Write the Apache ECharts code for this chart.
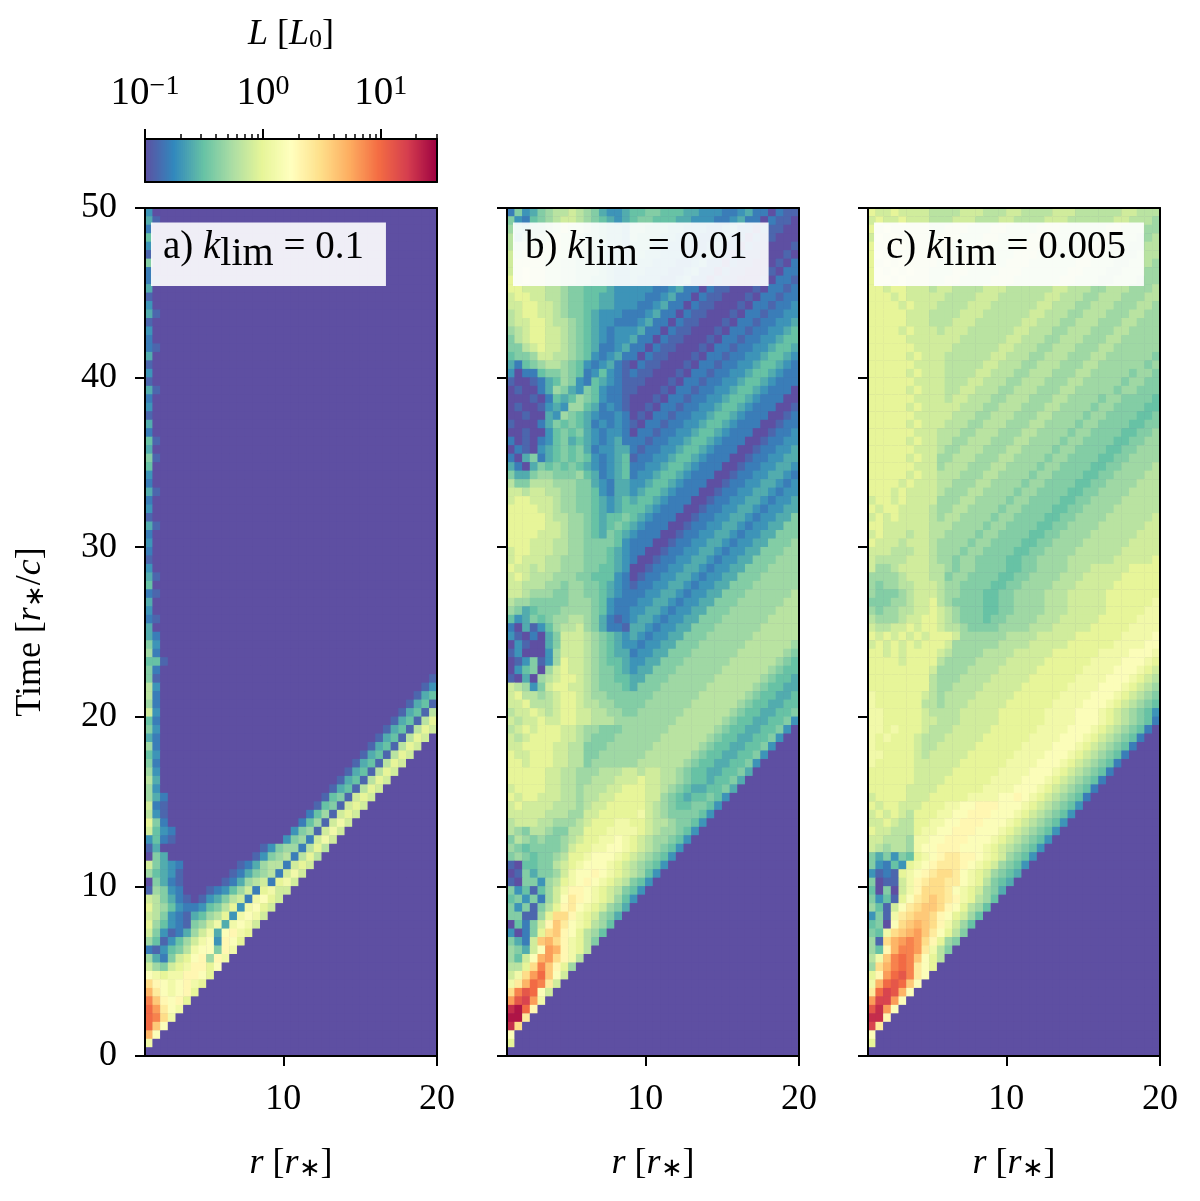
<!DOCTYPE html>
<html><head><meta charset="utf-8">
<script src="https://cdn.jsdelivr.net/npm/echarts@6/dist/echarts.min.js"></script>
<style>html,body{margin:0;padding:0;background:#fff}#c{width:1200px;height:1201px}</style>
</head><body><div id="c"></div>
<script>
// Each character is one cell of log10(L): '.'/a = -1.0, b = -0.9, ... k = 0, ... y = 1.4
// Rows run from the top of a panel (t = 50) to the bottom (t = 0); missing cells are the floor value.
const D = n => '.'.repeat(n);
const panelA = [
"d","eb","c","f","d","b","g","c","cb","e","b","d","eb","b","d","c","cb","e","b","d",
"b","eb","c","d","b","e","c","fb","e","gb","f","d","c","eb","c","d","b","eb","c","d",
"c","b","d","eb","f","cb","e","d","cb","e",
"ec","gd","hc","ffb","gc","gb"+D(35)+"b","id"+D(34)+"bd","ic"+D(33)+"bef","hc"+D(32)+"befb","jd"+D(31)+"befbi","fc"+D(30)+"befbik",
"gd"+D(29)+"befbikj",
"ec"+D(28)+"befbikj",
"hc"+D(27)+"befbikj",
"fd"+D(26)+"befbikj",
"gc"+D(25)+"befbikj",
"hd"+D(24)+"befbikj",
"ie"+D(23)+"befbikj",
"hd"+D(22)+"befbikj",
"hec"+D(20)+"bfgbjkj",
"jcb"+D(19)+"bfgbjkj",
"idb"+D(18)+"cfhbjkj",
"kgc"+D(17)+"cfhbjlj",
"jfdc"+D(15)+"dghbjlj",
"dfcb"+D(14)+"dghcjlj",
"bea"+D(11)+"abdghhciki",
"age"+D(10)+"abdghiciki",
"jgedc"+D(7)+"bcehiicjkj",
"hfedb"+D(6)+"bceghicjlj",
"agecb"+D(5)+"bcehijcklj",
"bhgdc"+D(3)+"bcdfhjckljj",
"jigecb"+D(1)+"bdegijclmkj",
"kihfdccdfgikdlmkj",
"jigdcbefhikdlmlj",
"khfdcbghjlelmlj",
"jgdbcehjlemnlk",
"hfbdfhjlmdnmk",
"cbdfgilmmgnl",
"hecgjkmnhnl",
"jhgjklnnkm",
"mlkllnnmk",
"pnmlmnlk",
"romlmnk",
"tqnmnk",
"usoml",
"utpl",
"uqm",
"rm",
"l"
];
const panelB = [
"cgdeghiijihgeddeffggfffeedddccdeccacbb",
"gdcfghijjihgfedefggfffeedddccdeccacbba",
"hfegghijiihgfeedggfffeedddccdeccacbbaa",
"iegghijiihggfeedgfffeedddccdeccacbbaaa",
"ihhiijjiihhgfeedfffeedddccdeccacbbaaab",
"jijijjiihhggfeedffeedddccdeccacbbaaaba",
"jjjjjiihhgggfeedfeedddccdeccacbbaaabac",
"jjkjjiihhgggfeddeedddccdeccacbbaaabacc",
"kjkjjiihhggffeddedddccdeccacbbaaabaccb",
"kkjjjiihggfffedddddccdeccacbbaaabaccbc",
"jkkjjiihggffeeddddccdeccacbbaaabaccbcc",
"jjkkjjihggffeedddccdeccacbbaaabaccbccd",
"ijkkjjihggfedddcccdeccacbbaaabaccbccdd",
"ijjkkjiihgfeddcccdeccacbbaaabaccbccdde",
"hijkkjjihgfedcdddeccacbbaaabaccbccddef",
"gijkkjjihgfedcddeccacbbaaabaccbccddeff",
"ggijkjjihgfeccdeccacbbaaabaccbccddeffe",
"fgghjjiihgfdcdeccacbbaaabaccbccddeffed",
"ecfghiihgfdcdecbacbbaaabaccbccddeffedc",
"daccfgghgfcdfdcbcbbaaabaccbccddeffedcc",
"baabcefhgdcfedcbbbaaabaccbccddeffedccc",
"abaacehgedgfdccbbaaabaccbccddeffedccca",
"aaabacfefhgfdccbaaabaccbccddeffedcccaa",
"abaabdedhhfecdcbaabaccbccddeffedcccaab",
"aabaaedhgfedccdcabaccbccddeffedcccaabc",
"baaacegfgfecdcdcbaccbccddeffedcccaabcc",
"aabaadfgfgedcddcaccbccddeffedcccaabccd",
"cabacdfgefedcdecccbccddeffedcccaabccdd",
"acbadefgfgecddeecbccddeffedcccaabccdde",
"caegcefgfgfdcdefbccddeffedcccaabccddee",
"ecaegfgfgfedcdefccddeffedcccaabccddeed",
"geeghhggghfecdefcddeffedcccaabccddeedc",
"iggiiihhhggedceeddeffedcccaabccddeedcd",
"jjijjiihhggfdceedeffedcccaabccddeedcdd",
"jkkjjjihhggfedefeffedcccaabccddeedcdde",
"kkkkjjihhggfedefffedcccaabccddeedcddee",
"kkkkkjiihhgfeffgfedcccaabccddeedcddeeg",
"kkkkkjjihhgfefgfedcccaabccddeedcddeegg",
"kkkkjjjihhgfegfedcccaabccddeedcddeeggg",
"kkkjjjiihhggggfdcccaabccddeedcddeegggh",
"jkkjjjiihhgggfedccaabccddeedcddeeggghh",
"jkjjjiihhhgggfedcaabccddeedcddeeggghhh",
"kjjijiihhhggffedaabccddeedcddeeggghhhh",
"jkjiiihhhggfffdcabccddeedcddeeggghhhhh",
"jjiiihhghhggfedcbccddeedcddeeggghhhhhh",
"jjihhhgghhggfedcccddeedcddeeggghhhhhhi",
"ihhggggghhhgfdcccddeedcddeeggghhhhhhii",
"hgefggghhhhgfdccddeedcddeeggghhhhhhiii",
"fdegfghhiihgecbcdeedcddeeggghhhhhhiiii",
"caebdfhiijhgeccbeedcddeeggghhhhhhiiiii",
"dbacaegjjjihgfededcddeeggghhhhhhiiiiii",
"adbaaegjjjihgfeddcddeeggghhhhhhiiiiiih",
"bdaaadhjjjihgfeecddeeggghhhhhhiiiiiihg",
"abdgbdhkjjihgffeddeeggghhhhhhiiiiiihgf",
"adfgahjkjjihggfedeeggghhhhhhiiiiiihgff",
"baeahijkkjihggffeeggghhhhhhiiiiiihgffe",
"jihdgjkkjjihgggfeggghhhhhhiiiiiihgffee",
"jkiihijkkjihhgggggghhhhhhiiiiiihgffeef",
"jjkiiijkkjiihhgggghhhhhhiiiiiihgffeeff",
"ijjkjijkkjjiihhgghhhhhhiiiiiihgffeeffg",
"jijjkjjkkjjiiihhhhhhhhiiiiiihgffeeffgd",
"ijkjkkkjjihhggghhhhhhiiiiiihgffeeffgd",
"jijkkkkjjihggghhhhhhiiiiiihgffeeffgd",
"jjkkkkjjiiggghhhhhhiiiiiihgffeeffgd",
"kjjkkkjjiigghhhhhhiiiiiihgffeeffgd",
"kkjkkkjjiighhhhhhiiiiiihgffeeffgd",
"kkkkkjjiihhhiiijjijjiihgffeeffge",
"kkkkkjjiihhiiijjjkjjiihgffeffge",
"jkkkkjjiihiiijjkkkjjihgfeeffge",
"kjkkjjjiihiijjkkkkjjhgfeffgfd",
"jkjjjjiiihijjkkkkkjihgffggfd",
"jjjjjiiihhjjkkkkkljihggggfd",
"ijjjiihhhijkkkllkkjiihggfd",
"ihgiihggiikkkllllkjihhgfd",
"gihghgghijkkllmlkjihhgfd",
"hgfgggghjkkllmmlkjihgfd",
"ghgfgghikklmmmlkjihgfd",
"baffggijklmmmlkjihgfd",
"abgegghjlmmnmlkjihfd",
"baggdhiklmnmlkjigfd",
"gdfbfhjlnnmlkjigfd",
"fgdgchjmonmlkjhfd",
"gdgbgiknomlkjhge",
"ggbbhkppnlkjhge",
"afcgjnqomlkihf",
"dacgkpqnmkihf",
"gecjqrpnlkig",
"hgejmsrnlki",
"hfjmrspnli",
"iikptqnkh",
"jlpsuqmj",
"lorutoj",
"ptvumj",
"svwsl",
"xyun",
"yyo",
"xp",
"m",
"k"
];
const panelC = [
"kjjkjjjjiiiijjjiiijjiiiijjjiiiiiijjiii",
"jkjjkjjjiiijjjiiijjiiiijjjiiiiiijjiiih",
"kjkjjjjjiijjjiiijjiiiijjjiiiiiijjiiihh",
"jkjkjjjjijjjiiijjiiiijjjiiiiiijjiiihhi",
"kjkjkjjjjjjiiijjiiiijjjiiiiiijjiiihhii",
"kkjkjjjjjjiiijjiiiijjjiiiiiijjiiihhiii",
"kjkjkjjjjiiijjiiiijjjiiiiiijjiiihhiiih",
"kkjkjkjjiiijjiiiijjjiiiiiijjiiihhiiihh",
"kkkjkjjjiijjiiiijjjiiiiiijjiiihhiiihhh",
"kkjkkjjjijjiiiijjjiiiiiijjiiihhiiihhhi",
"kkkjkjjjjjiiiijjjiiiiiijjiiihhiiihhhii",
"kkkkjkjjjiiiijjjiiiiiijjiiihhiiihhhiih",
"kkkkkjjjiiiijjjiiiiiijjiiihhiiihhhiihh",
"kkkkkjjjiiijjjiiiiiijjiiihhiiihhhiihhh",
"kkkkjkjjjijjjiiiiiijjiiihhiiihhhiihhhh",
"kkkkkjjjjjjjiiiiiijjiiihhiiihhhiihhhhh",
"kkkkkkjjjjjiiiiiijjiiihhiiihhhiihhhhhh",
"kkkkkjkjjjiiiiiijjiiihhiiihhhiihhhhhhg",
"kkkkkkjjjjiiiiijjiiihhiiihhhiihhhhhhgh",
"kkkkkjkjjjiiiijjiiihhiiihhhiihhhhhghhg",
"kkkkkkjjjjiiijjiiihhiiihhhiihhhhhghhgg",
"kkkkkjkjjjiijjiiihhiiihhhiihhhhhghhggg",
"kkkkkkjjjjijjiiihhiiihhhiihhhhghhggggf",
"kkkkkjkjjjjjiiihhiiihhhiihhhhghhggggff",
"kkkkkkjjjjjiiihhiiihhhiihhhhghhggggffg",
"kkkkkjkjjjiiihhiiihhhiihhhhghhggggffgg",
"kkkkkkjjjiiihhiiihhhiihhhhghhggggffggh",
"kkkkkjkjjiihhiiihhhiihhhhghhggggffgghh",
"kkkkkkjjjihhiiihhhiihhhhghhggggffgghhh",
"kkkkkjkjjhhiiihhhiihhhhghhggggffgghhhh",
"kkkkkkjjjhiiihhhiihhhhghhggggffgghhhhi",
"kkkkkjkjjiiihhhiihhhhghhggggffgghhhhii",
"kkkkjkjjjiihhhiihhhhghhggggffgghhhhiii",
"kkkjkjjjjihhhiihhhhghhggggffgghhhhiiii",
"jkkjkjjjjhhhiihhhhghhggggffgghhhhiiiii",
"kjkkjjjjihhiihhhhghhggggffgghhhhiiiiii",
"jkjkjjjjihiihhhhghhggggffgghhhhiiiiiij",
"kkjjjjjjiiihhhhghhggggffgghhhhiiiiiijj",
"jkjjjijjiihhhhghhggggffgghhhhiiiiiijjj",
"kjjjijjjihhhhghhggggffgghhhhiiiiiijjjj",
"jjjiiijjihhhghhggggffgghhhhiiiiiijjjjj",
"jiiiijjjihhghhggggffgghhhhiiiiiijjjjjk",
"jhhijjjjiihghhggggffgghhhhiiijjjjjkkkk",
"hhhhijjjiighhggggffgghhhhiiijjjjjkkkkk",
"hghhiijjjihhggggffgghhhhiiijjjjjkkkkkk",
"hggghijjjihhgggffgghhhhiiijjjjjkkkkkkk",
"ggghhijjkihggggffgghhhhiiijjjjjkkkkkkl",
"hghhiijjkjihgggffgghhhhiiijjjjjkkkkkll",
"ihhhijjkkjihgggfgghhhhiiijjjjjkkkkklll",
"jiijjkjkkjiihgggghhhhiiijjjjjkkkkkllll",
"kjkjkjkjkkkjhhhhhhiiiijjjjjkkkkkkllllm",
"jkjkjkjkkkjhhhhhhiiiijjjjjkkkkkkllllmm",
"kkjkjkkkkjihhhhiiiijjjjjkkkkkkllllmmml",
"kkkkjkkkkihhhhiiiijjjjjkkkkkkllllmmmlk",
"kkkkkkkkjhhhhiiiijjjjjkkkkkkllllmmmlkj",
"kkkkkkkkihhhiiiijjjjjkkkkkkllllmmmlkji",
"kkkkkkkkihhiiiijjjjjkkkkkkllllmmmlkjih",
"lkkkkkkjihiiiijjjjjkkkkkkllllmmmlkjihg",
"lkkkkkkiihiiijjjjjkkkkkkllllmmmlkjihgf",
"llkkkkkjiiiijjjjjkkkkkkllllmmmlkjihgfd",
"llkkkkkjjiiijjjjjkkkkkkllllmmmlkjihgfc",
"llklkkkjiiijjjjjkkkkkkllllmmmlkjihgfc",
"lklkkkjiiijjjjjkkkkkkllllmmmlkjihgfc",
"lkkkkkjiijjjjjkkkkkkllllmmmlkjihgfc",
"llkkkkjijjjjjkkkkkkllllmmmlkjihgfc",
"lkkkkkjjjjjjkkkkkkllllmmmlkjihgfc",
"kkkkkkjjjjjkkkkkkllllmmmlkjihgfc",
"kkkkkkjjjjkkkkkkllllmmmlkjihgfc",
"kkkkkjjjjkkkkkkllllmmmlkjihgfc",
"jkkkkjjjkkkkkllllmmnmlkjihgfc",
"kjkkjjjkkkllmmnnnmmmlkjihgfd",
"jkjkjikkkllmmnnnmmmlkjihgfd",
"jjkjiikkllmmnnnmmmlkjihgfd",
"kjjiiikllmmnnnmmmlkjihgfd",
"jjiiihllmmnnnmmmlkjihgfd",
"jihiihlmmnnnmmmlkjihgfd",
"gegdgfklmnoonnmlkjhgfd",
"gdcfdklmnooonmlkjhgfd",
"dbcbklmnoppomlkjhgfe",
"gabbjlnoppoomlkigfe",
"fagajlnpppomlkjhge",
"gdfbkmopqponlkihf",
"hfbjmopqqpnmkihf",
"dgblopqqpnmkjhf",
"fgampqrqpnljhf",
"gflpqrsqomkig",
"hbprstspnkhg",
"hfnrttsolig",
"ilqtutqmki",
"hprtutomk",
"knsuvtom",
"lruvuqm",
"ouwvrm",
"swwsm",
"vxsm",
"xxn",
"wo",
"m",
"k"
];
const yTicks = [0, 10, 20, 30, 40, 50];
const xTicks = [10, 20];
const panelNames = ["a)", "b)", "c)"];
const panelK = ["0.1", "0.01", "0.005"];
const colorDecades = [-1, 0, 1];
const colorMinor = [2,3,4,5,6,7,8,9].flatMap(m => [-1,0].map(e => e + Math.log10(m))).concat([1 + Math.log10(2), 1 + Math.log10(3)]);
const spectral = ["#5e4fa2","#3288bd","#66c2a5","#abdda4","#e6f598","#ffffbf","#fee08b","#fdae61","#f46d43","#d53e4f","#9e0142"];
const LOG_MIN = -1, LOG_MAX = Math.log10(30);
const barSteps = 146;

const rCells = Array.from({length: 38}, (_, j) => String(1.25 + j * 0.5));
const tCells = Array.from({length: 100}, (_, k) => String(0.25 + k * 0.5));
const LEVELS = "abcdefghijklmnopqrstuvwxy";
function cells(rows) {
  const out = [];
  for (let i = 0; i < 100; i++) {
    const row = rows[i] || "";
    for (let j = 0; j < 38; j++) {
      const ch = row[j];
      const idx = (ch === undefined || ch === '.') ? 0 : LEVELS.indexOf(ch);
      out.push([j, 99 - i, -1 + idx * 0.1]);
    }
  }
  return out;
}
const FONT = "Liberation Serif";
const FS = 36;
const rich = {
  i: {fontFamily: FONT, fontStyle: "italic", fontWeight: "normal", fontSize: FS, color: "#000"},
  t: {fontFamily: FONT, fontWeight: "normal", fontSize: FS, color: "#000"},
  b: {fontFamily: FONT, fontWeight: "normal", fontSize: 39, color: "#000"},
  ti: {fontFamily: FONT, fontStyle: "italic", fontWeight: "normal", fontSize: 39, color: "#000"},
  tt: {fontFamily: FONT, fontWeight: "normal", fontSize: 39, color: "#000"},
  sub: {fontFamily: FONT, fontWeight: "normal", fontSize: 26, color: "#000", verticalAlign: "bottom", padding: [10, 0, 0, 0]},
  subl: {fontFamily: FONT, fontWeight: "normal", fontSize: 40, color: "#000", verticalAlign: "bottom", padding: [12, 0, 0, 0]},
  sup: {fontFamily: FONT, fontWeight: "normal", fontSize: 28, color: "#000", verticalAlign: "top", padding: [0, 0, 14, 0]}
};
const lineS = {color: "#000", width: 2};
const grids = [], xAxes = [], yAxes = [], series = [], titles = [];
const panelLefts = [145, 507, 868];
const boxes = [[151, 216, 22], [513, 216, 21], [874, 216, 18]];
[panelA, panelB, panelC].forEach((rows, p) => {
  grids.push({left: panelLefts[p], top: 208, width: 292, height: 848, show: true, backgroundColor: "#5e4fa2", borderWidth: 0});
  const xBase = xAxes.length, yBase = yAxes.length;
  xAxes.push({type: "category", gridIndex: p, data: rCells, show: false});
  xAxes.push({type: "value", gridIndex: p, position: "bottom", min: 1, max: 20, z: 5,
    splitLine: {show: false}, axisLine: {onZero: false, lineStyle: lineS},
    axisTick: {length: 10, lineStyle: lineS, customValues: xTicks},
    axisLabel: {customValues: xTicks, fontFamily: FONT, fontSize: FS, color: "#000", margin: 26},
    name: "{i|r}{t| [}{i|r}{sub|∗}{t|]}", nameLocation: "middle", nameGap: 90,
    nameTextStyle: {rich}});
  xAxes.push({type: "value", gridIndex: p, position: "top", min: 1, max: 20, z: 5,
    splitLine: {show: false}, axisLine: {onZero: false, lineStyle: lineS}, axisTick: {show: false}, axisLabel: {show: false}});
  yAxes.push({type: "category", gridIndex: p, data: tCells, show: false});
  yAxes.push({type: "value", gridIndex: p, position: "left", min: 0, max: 50, interval: 10, z: 5,
    splitLine: {show: false}, axisLine: {onZero: false, lineStyle: lineS},
    axisTick: {length: 10, lineStyle: lineS},
    axisLabel: {show: p === 0, fontFamily: FONT, fontSize: FS, color: "#000", margin: 28},
    name: p === 0 ? "{t|Time [}{i|r}{sub|∗}{t|/}{i|c}{t|]}" : "", nameLocation: "middle", nameGap: 96, nameRotate: 90,
    nameTextStyle: {rich}});
  yAxes.push({type: "value", gridIndex: p, position: "right", min: 0, max: 50, z: 5,
    splitLine: {show: false}, axisLine: {onZero: false, lineStyle: lineS}, axisTick: {show: false}, axisLabel: {show: false}});
  series.push({type: "heatmap", xAxisIndex: xBase, yAxisIndex: yBase, data: cells(rows),
    progressive: 0, animation: false, emphasis: {disabled: true}});
  titles.push({left: boxes[p][0], top: boxes[p][1], padding: [6, boxes[p][2], 12, 12], backgroundColor: "rgba(255,255,255,0.9)",
    text: "{tt|" + panelNames[p] + " }{ti|k}{subl|lim}{tt| = " + panelK[p] + "}", textStyle: {rich, fontWeight: "normal"}});
});
// colour bar
const g = grids.length;
grids.push({left: 145, top: 139, width: 292, height: 43});
const barCats = Array.from({length: barSteps}, (_, i) => String(i));
const barData = barCats.map((_, i) => [i, 0, LOG_MIN + (LOG_MAX - LOG_MIN) * (i + 0.5) / barSteps]);
const xb = xAxes.length, yb = yAxes.length;
xAxes.push({type: "category", gridIndex: g, data: barCats, show: false});
xAxes.push({type: "value", gridIndex: g, position: "top", min: LOG_MIN, max: LOG_MAX, z: 5,
  splitLine: {show: false}, axisLine: {onZero: false, lineStyle: lineS},
  axisTick: {length: 10, lineStyle: lineS, customValues: colorDecades},
  axisLabel: {customValues: colorDecades, margin: 24, formatter: v => "{b|10}{sup|" + (v < 0 ? "−" + (-v) : v) + "}", rich},
  name: "{i|L}{t| [}{i|L}{sub|0}{t|]}", nameLocation: "middle", nameGap: 86, nameTextStyle: {rich}});
xAxes.push({type: "value", gridIndex: g, position: "top", min: LOG_MIN, max: LOG_MAX, z: 5,
  splitLine: {show: false}, axisLine: {show: false, onZero: false},
  axisTick: {length: 5, lineStyle: {color: "#000", width: 1.5}, customValues: colorMinor}, axisLabel: {show: false}});
xAxes.push({type: "value", gridIndex: g, position: "bottom", min: LOG_MIN, max: LOG_MAX, z: 5,
  splitLine: {show: false}, axisLine: {onZero: false, lineStyle: lineS}, axisTick: {show: false}, axisLabel: {show: false}});
yAxes.push({type: "category", gridIndex: g, data: ["0"], show: false});
yAxes.push({type: "value", gridIndex: g, position: "left", min: 0, max: 1, z: 5,
  splitLine: {show: false}, axisLine: {onZero: false, lineStyle: lineS}, axisTick: {show: false}, axisLabel: {show: false}});
yAxes.push({type: "value", gridIndex: g, position: "right", min: 0, max: 1, z: 5,
  splitLine: {show: false}, axisLine: {onZero: false, lineStyle: lineS}, axisTick: {show: false}, axisLabel: {show: false}});
series.push({type: "heatmap", xAxisIndex: xb, yAxisIndex: yb, data: barData, progressive: 0, animation: false, emphasis: {disabled: true}});

const chart = echarts.init(document.getElementById("c"), null, {renderer: "canvas"});
chart.setOption({
  animation: false, backgroundColor: "#fff",
  title: titles, grid: grids, xAxis: xAxes, yAxis: yAxes, series,
  visualMap: {show: false, min: LOG_MIN, max: LOG_MAX, calculable: false, inRange: {color: spectral}, seriesIndex: series.map((_, i) => i)}
});
</script></body></html>
